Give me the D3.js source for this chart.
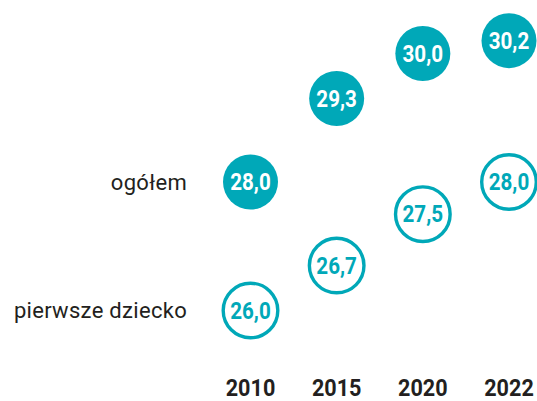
<!DOCTYPE html>
<html>
<head>
<meta charset="utf-8">
<script src="https://cdn.jsdelivr.net/npm/d3@7"></script>
<style>
  body { margin: 0; background: #fff; }
  text { font-family: Roboto, "Noto Sans", sans-serif; }
</style>
</head>
<body>
<div id="chart"></div>
<script>
// ages of mothers at birth, two series
const years = ["2010", "2015", "2020", "2022"];
const ogolem = [28.0, 29.3, 30.0, 30.2];
const pierwsze = [26.0, 26.7, 27.5, 28.0];
const seriesLabels = ["ogółem", "pierwsze dziecko"];

const W = 537, H = 401;
const teal = "#00a8b8";
const ink = "#231f20";
const squeeze = 0.86; // fake a condensed face for the bold numbers
const fmt = v => d3.format(".1f")(v).replace(".", ",");

const svg = d3.select("#chart").append("svg").attr("width", W).attr("height", H);

const x = d3.scalePoint().domain(years).range([250.5, 509]);
const y = d3.scaleLinear().domain([26, 28]).range([310.5, 182]);

// year labels along the bottom
svg.append("g").selectAll("text").data(years).enter().append("text")
  .attr("transform", d => `translate(${x(d)},396) scale(0.9,1)`)
  .attr("text-anchor", "middle")
  .attr("font-size", 24).attr("font-weight", "bold").attr("fill", ink)
  .text(d => d);

// series labels on the left, at the 2010 value
svg.append("g").selectAll("text").data([ogolem[0], pierwsze[0]]).enter().append("text")
  .attr("x", 187).attr("y", d => y(d))
  .attr("dy", "0.35em")
  .attr("text-anchor", "end")
  .attr("font-size", 22).attr("letter-spacing", 0.3).attr("fill", ink)
  .text((d, i) => seriesLabels[i]);

const rowsA = years.map((yr, i) => ({ yr, v: ogolem[i] }));
const rowsB = years.map((yr, i) => ({ yr, v: pierwsze[i] }));

const gA = svg.append("g").selectAll("g").data(rowsA).enter().append("g")
  .attr("transform", d => `translate(${x(d.yr)},${y(d.v)})`);
gA.append("circle").attr("r", 27.5).attr("fill", teal);
gA.append("text").attr("text-anchor", "middle").attr("dy", "0.34em")
  .attr("transform", `scale(${squeeze},1)`)
  .attr("font-size", 24).attr("font-weight", "bold").attr("fill", "#fff")
  .text(d => fmt(d.v));

const gB = svg.append("g").selectAll("g").data(rowsB).enter().append("g")
  .attr("transform", d => `translate(${x(d.yr)},${y(d.v)})`);
gB.append("circle").attr("r", 27.3).attr("fill", "#fff").attr("stroke", teal).attr("stroke-width", 3.4);
gB.append("text").attr("text-anchor", "middle").attr("dy", "0.34em")
  .attr("transform", `scale(${squeeze},1)`)
  .attr("font-size", 24).attr("font-weight", "bold").attr("fill", teal)
  .text(d => fmt(d.v));
</script>
</body>
</html>
